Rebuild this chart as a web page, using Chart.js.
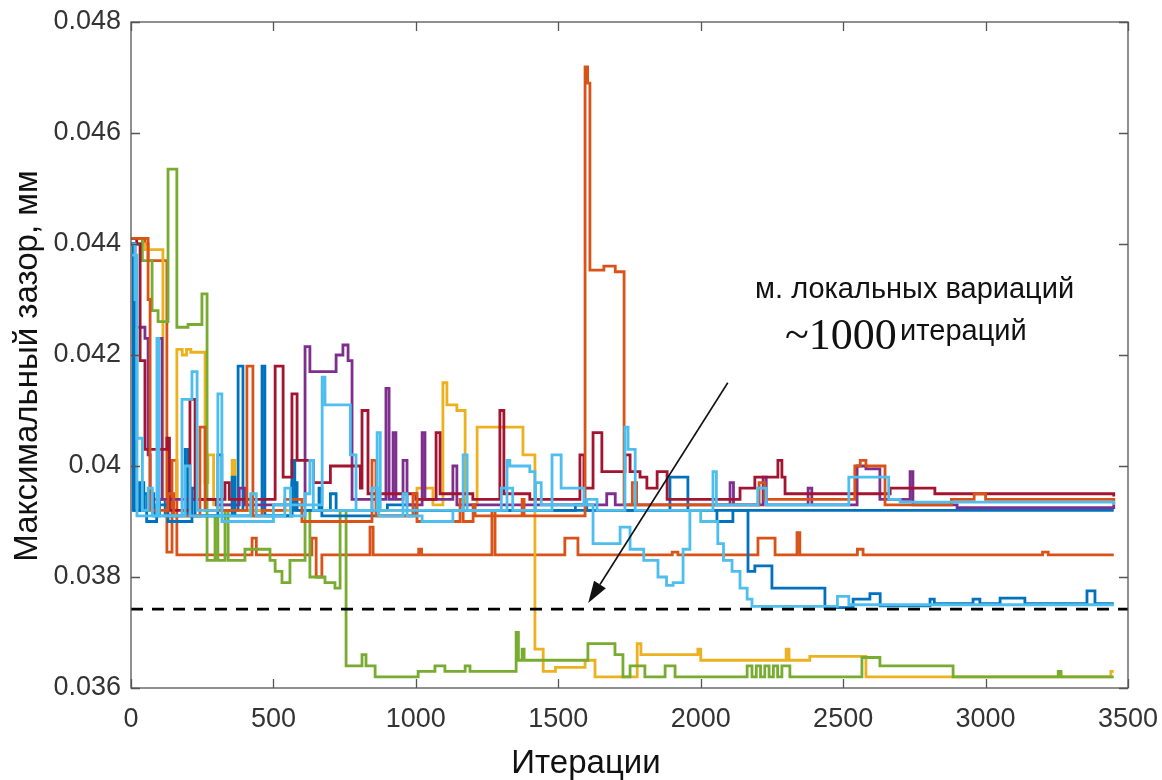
<!DOCTYPE html>
<html><head><meta charset="utf-8">
<script src="https://cdn.jsdelivr.net/npm/chart.js@4.4.1/dist/chart.umd.min.js"></script>
<style>html,body{margin:0;padding:0;background:#fff}</style>
</head><body>
<canvas id="c" width="1162" height="780"></canvas>
<script>
// ---- tick labels ----
const xTickValues = [0,500,1000,1500,2000,2500,3000,3500];
const xTickLabels = ['0','500','1000','1500','2000','2500','3000','3500'];
const yTickValues = [0.036,0.038,0.040,0.042,0.044,0.046,0.048];
const yTickLabels = ['0.036','0.038','0.04','0.042','0.044','0.046','0.048'];

// ---- series: [iteration, value] step points ----
const runBlue1 = [[0,0.0440],[8,0.0392],[30,0.0397],[45,0.0392],[60,0.0395],[80,0.0391],[100,0.0394],[120,0.0391],[190,0.0403],[200,0.0391],[305,0.0402],[319,0.0392],[376,0.0418],[393,0.0392],[460,0.0418],[470,0.0391],[565,0.0397],[583,0.0392],[700,0.0395],[720,0.0392],[900,0.0393],[1000,0.0392],[1892,0.0398],[1955,0.0392],[3450,0.0392]];
const runBlue2 = [[0,0.0440],[12,0.0392],[40,0.0395],[55,0.0390],[90,0.0393],[130,0.0390],[214,0.0396],[225,0.0391],[355,0.0398],[365,0.0391],[565,0.0401],[575,0.0392],[660,0.0396],[670,0.0391],[1000,0.0392],[1560,0.0393],[1600,0.0392],[2057,0.0390],[2113,0.0392],[2166,0.0381],[2190,0.0382],[2250,0.0378],[2436,0.03745],[2535,0.0376],[2594,0.0377],[2630,0.03748],[2805,0.0376],[2820,0.03752],[2956,0.0376],[2980,0.03752],[3051,0.03762],[3138,0.03752],[3356,0.03775],[3384,0.03752],[3450,0.03752]];
const runOrange1 = [[0,0.0441],[49,0.0440],[60,0.0437],[112,0.0437],[126,0.03845],[144,0.0401],[161,0.0384],[300,0.0384],[425,0.0387],[440,0.0384],[635,0.0387],[650,0.0380],[670,0.0384],[839,0.0389],[850,0.0384],[1010,0.0385],[1020,0.0384],[1267,0.0392],[1278,0.0384],[1523,0.0387],[1569,0.0384],[1900,0.03845],[1920,0.0384],[2201,0.0387],[2261,0.0384],[2338,0.0388],[2348,0.0384],[2550,0.0385],[2570,0.0384],[3200,0.03845],[3220,0.0384],[3450,0.0384]];
const runOrange2 = [[0,0.0441],[49,0.0441],[60,0.0430],[67,0.0392],[130,0.0395],[150,0.0391],[242,0.0407],[260,0.0392],[407,0.0418],[428,0.0391],[460,0.0392],[540,0.0394],[600,0.0390],[846,0.0401],[860,0.0391],[990,0.0395],[1004,0.0390],[1155,0.0394],[1166,0.0390],[1201,0.0393],[1208,0.0391],[1373,0.0394],[1380,0.0391],[1594,0.04719],[1603,0.0469],[1611,0.04353],[1660,0.0436],[1700,0.0435],[1731,0.0393],[1760,0.0397],[1775,0.0393],[2205,0.0397],[2225,0.0394],[2541,0.0400],[2560,0.0401],[2580,0.0400],[2647,0.0393],[2880,0.0394],[2960,0.0395],[3000,0.0394],[3450,0.0393]];
const runYellow = [[0,0.0440],[50,0.0439],[112,0.0394],[161,0.0421],[180,0.0420],[195,0.0421],[210,0.04205],[260,0.0397],[270,0.0402],[290,0.0393],[355,0.0401],[365,0.0392],[1004,0.0396],[1060,0.0393],[1095,0.0415],[1109,0.0411],[1144,0.0410],[1173,0.0393],[1215,0.0407],[1376,0.0402],[1418,0.0367],[1447,0.0363],[1490,0.03637],[1594,0.0365],[1629,0.0362],[1777,0.0368],[1790,0.0366],[1990,0.0367],[2000,0.0365],[2300,0.0367],[2310,0.0365],[2383,0.03657],[2580,0.0362],[3440,0.0363],[3450,0.0363]];
const runPurple = [[0,0.0440],[14,0.0425],[49,0.0423],[60,0.0402],[67,0.0394],[95,0.0423],[109,0.0394],[300,0.0393],[380,0.0396],[400,0.0393],[611,0.04215],[628,0.0417],[720,0.0420],[744,0.04218],[762,0.0419],[776,0.0394],[895,0.0414],[906,0.0394],[920,0.0406],[930,0.0394],[955,0.0401],[969,0.0393],[1022,0.0406],[1032,0.0394],[1130,0.0400],[1144,0.0393],[1670,0.0395],[1700,0.0393],[2103,0.0397],[2115,0.0393],[2219,0.0398],[2230,0.0393],[2377,0.0396],[2390,0.0393],[2549,0.0400],[2580,0.03995],[2629,0.0394],[2735,0.0399],[2745,0.0393],[2900,0.03925],[3450,0.0393]];
const runGreen = [[0,0.0441],[40,0.0437],[74,0.0428],[95,0.0426],[130,0.04535],[161,0.0425],[200,0.04255],[249,0.0431],[267,0.0383],[295,0.0391],[305,0.0383],[330,0.0392],[341,0.0383],[400,0.0385],[488,0.0383],[506,0.0381],[530,0.0379],[558,0.0383],[611,0.0392],[628,0.0380],[681,0.0379],[716,0.0378],[734,0.0392],[755,0.0364],[811,0.0366],[825,0.0364],[857,0.0362],[1008,0.0363],[1067,0.0364],[1102,0.0363],[1173,0.0364],[1190,0.0363],[1352,0.0370],[1360,0.0365],[1373,0.0367],[1380,0.0365],[1604,0.0368],[1699,0.0366],[1727,0.0362],[1752,0.0364],[1804,0.0362],[1875,0.0364],[1910,0.0362],[2163,0.0364],[2180,0.0362],[2195,0.0364],[2210,0.0362],[2225,0.0364],[2240,0.0362],[2255,0.0364],[2270,0.0362],[2285,0.0364],[2313,0.0362],[2566,0.03655],[2629,0.0364],[2886,0.0362],[3255,0.0363],[3265,0.0362],[3450,0.0362]];
const runLightBlue1 = [[0,0.0440],[14,0.0438],[21,0.0391],[91,0.0423],[98,0.0391],[179,0.0412],[214,0.0417],[232,0.0392],[305,0.0413],[319,0.0390],[500,0.0393],[671,0.0416],[681,0.0411],[770,0.0402],[790,0.0392],[864,0.0406],[875,0.0392],[1166,0.0402],[1180,0.0392],[1320,0.0401],[1330,0.0400],[1400,0.0399],[1418,0.0392],[1478,0.0402],[1510,0.0396],[1590,0.0393],[1622,0.0386],[1717,0.0389],[1752,0.0385],[1800,0.0383],[1850,0.0380],[1880,0.03785],[1903,0.0379],[1938,0.0385],[1962,0.0392],[2000,0.0390],[2060,0.0386],[2080,0.0383],[2110,0.0381],[2138,0.0378],[2163,0.0376],[2180,0.03747],[2480,0.03765],[2520,0.0375],[3450,0.0375]];
const runLightBlue2 = [[0,0.0438],[14,0.0430],[21,0.0405],[40,0.0392],[60,0.0396],[75,0.0391],[190,0.0400],[207,0.0391],[420,0.0395],[440,0.0391],[540,0.0396],[560,0.0391],[611,0.0395],[628,0.0401],[640,0.0392],[846,0.0396],[870,0.0391],[955,0.0395],[969,0.0391],[1022,0.0390],[1130,0.0392],[1300,0.0396],[1340,0.0392],[1420,0.0397],[1440,0.0393],[1600,0.0394],[1636,0.0392],[1734,0.0407],[1745,0.0403],[1770,0.0392],[2043,0.0399],[2055,0.0393],[2200,0.0396],[2230,0.0393],[2520,0.0398],[2660,0.0394],[2700,0.03935],[3450,0.0393]];
const runDarkRed = [[0,0.0441],[20,0.0440],[32,0.0419],[49,0.0403],[126,0.0405],[135,0.0392],[207,0.0412],[225,0.0394],[330,0.0397],[345,0.0394],[506,0.0418],[534,0.0398],[565,0.0413],[583,0.0401],[640,0.0397],[700,0.0400],[805,0.0396],[811,0.0410],[832,0.0395],[1000,0.0394],[1071,0.0406],[1085,0.0395],[1200,0.0394],[1295,0.0410],[1309,0.0395],[1400,0.0394],[1576,0.0402],[1590,0.0396],[1622,0.0406],[1653,0.0399],[1734,0.0402],[1752,0.0399],[1787,0.0398],[1811,0.0396],[1847,0.0399],[1882,0.0394],[2138,0.0396],[2190,0.0398],[2271,0.0401],[2285,0.0398],[2296,0.0395],[2535,0.0395],[2665,0.0396],[2822,0.0395],[3391,0.0395],[3450,0.03945]];
const referenceLevel = [[0,0.03742],[3500,0.03742]];

// annotation anchors (data coordinates)
const noteLine1 = {text:'м. локальных вариаций', x:2191, y:0.04303};
const noteNum = {text:'~1000', x:2296, y:0.04210};
const noteLine2 = {text:'итераций', x:2700, y:0.04227};
const arrowFrom = [2095,0.0415];
const arrowTo = [1605,0.03753];

const SANS = "'Liberation Sans', Arial, sans-serif";
const mk = (pts)=>pts.map(p=>({x:p[0],y:p[1]}));
const series = [
  [runBlue1,'#0072BD'],[runOrange1,'#D95319'],[runYellow,'#EDB120'],[runPurple,'#7E2F8E'],
  [runGreen,'#77AC30'],[runBlue2,'#0072BD'],[runDarkRed,'#A2142F'],[runOrange2,'#D95319'],
  [runLightBlue1,'#4DBEEE'],[runLightBlue2,'#4DBEEE']
];
const datasets = series.map(([pts,col],i)=>({
  data: mk(pts), borderColor: col, borderWidth: 2.8, pointRadius: 0,
  stepped: 'before', fill: false, order: series.length - i + 1
}));
datasets.push({data: mk(referenceLevel), borderColor:'#000', borderWidth:2.8, borderDash:[12,9], pointRadius:0, order:0});

const framePlugin = {
  id:'frame',
  afterDatasetsDraw(chart){
    const {ctx, chartArea:a, scales:{x,y}} = chart;
    ctx.save();
    ctx.strokeStyle='#555'; ctx.lineWidth=1.3;
    ctx.strokeRect(a.left, a.top, a.right-a.left, a.bottom-a.top);
    ctx.beginPath();
    xTickValues.forEach(v=>{const px=Math.round(x.getPixelForValue(v))+0.5; ctx.moveTo(px,a.bottom); ctx.lineTo(px,a.bottom-9); ctx.moveTo(px,a.top); ctx.lineTo(px,a.top+9);});
    yTickValues.forEach(v=>{const py=Math.round(y.getPixelForValue(v))+0.5; ctx.moveTo(a.left,py); ctx.lineTo(a.left+9,py); ctx.moveTo(a.right,py); ctx.lineTo(a.right-9,py);});
    ctx.stroke();
    ctx.restore();
  },
  afterDraw(chart){
    const {ctx, scales:{x,y}} = chart;
    ctx.save();
    ctx.fillStyle='#111'; ctx.textBaseline='alphabetic'; ctx.textAlign='left';
    ctx.font = "29px " + SANS;
    ctx.fillText(noteLine1.text, x.getPixelForValue(noteLine1.x), y.getPixelForValue(noteLine1.y));
    ctx.fillText(noteLine2.text, x.getPixelForValue(noteLine2.x), y.getPixelForValue(noteLine2.y));
    ctx.font = "44px 'Liberation Serif', 'Times New Roman', serif";
    ctx.fillText(noteNum.text, x.getPixelForValue(noteNum.x), y.getPixelForValue(noteNum.y));
    // arrow
    const x0=x.getPixelForValue(arrowFrom[0]), y0=y.getPixelForValue(arrowFrom[1]);
    const x1=x.getPixelForValue(arrowTo[0]), y1=y.getPixelForValue(arrowTo[1]);
    const ang=Math.atan2(y1-y0,x1-x0), L=22, W=7;
    const bx=x1-L*Math.cos(ang), by=y1-L*Math.sin(ang);
    ctx.strokeStyle='#111'; ctx.lineWidth=1.6;
    ctx.beginPath(); ctx.moveTo(x0,y0); ctx.lineTo(bx,by); ctx.stroke();
    ctx.beginPath(); ctx.moveTo(x1,y1);
    ctx.lineTo(bx+W*Math.sin(ang), by-W*Math.cos(ang));
    ctx.lineTo(bx-W*Math.sin(ang), by+W*Math.cos(ang));
    ctx.closePath(); ctx.fill();
    // axis titles
    ctx.fillStyle='#111'; ctx.font = "33px " + SANS; ctx.textAlign='center'; ctx.textBaseline='middle';
    ctx.fillText('Итерации', 586, 764);
    ctx.translate(28, 366); ctx.rotate(-Math.PI/2);
    ctx.fillText('Максимальный зазор, мм', 0, 0);
    ctx.restore();
  }
};

new Chart(document.getElementById('c'), {
  type:'line',
  data:{datasets},
  options:{
    responsive:false, animation:false,
    layout:{padding:{left:0, top:22, right:34, bottom:0}},
    plugins:{legend:{display:false}, tooltip:{enabled:false}},
    scales:{
      x:{type:'linear', min:0, max:3500,
         afterBuildTicks(s){ s.ticks = xTickValues.map(v=>({value:v})); },
         afterFit(s){ s.height = 92; s.paddingLeft = 0; s.paddingRight = 0; },
         grid:{display:false, drawTicks:false}, border:{display:false},
         ticks:{padding:15, color:'#333', font:{family:SANS, size:27},
                callback:(v,i)=>xTickLabels[i], maxRotation:0, autoSkip:false}},
      y:{type:'linear', min:0.036, max:0.048,
         afterBuildTicks(s){ s.ticks = yTickValues.map(v=>({value:v})); },
         afterFit(s){ s.width = 131; s.paddingTop = 0; s.paddingBottom = 0; },
         grid:{display:false, drawTicks:false}, border:{display:false},
         ticks:{padding:10, color:'#333', font:{family:SANS, size:27},
                callback:(v,i)=>yTickLabels[i], autoSkip:false}}
    }
  },
  plugins:[framePlugin]
});
</script>
</body></html>
